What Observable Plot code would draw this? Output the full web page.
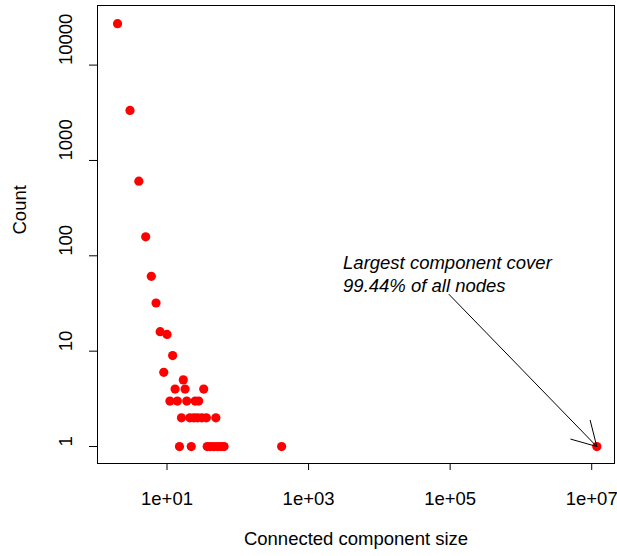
<!DOCTYPE html>
<html>
<head>
<meta charset="utf-8">
<script src="https://cdn.jsdelivr.net/npm/d3@7"></script>
<script src="https://cdn.jsdelivr.net/npm/@observablehq/plot@0.6"></script>
<style>
  html, body { margin: 0; padding: 0; background: #fff; }
</style>
</head>
<body>
<div id="chart"></div>
<script>
// Connected component sizes and their counts
const sizes  = [2, 3, 4, 5, 6, 7, 8, 9, 10, 12,
                17,
                13, 18, 33,
                11, 14, 19, 25, 28,
                16, 21, 24, 27, 31, 36, 49,
                15, 22, 37, 41, 46, 52, 58, 64,
                416, 11800000];
const counts = [27200, 3350, 607, 158, 61, 32, 16, 6, 15, 9,
                5,
                4, 4, 4,
                3, 3, 3, 3, 3,
                2, 2, 2, 2, 2, 2, 2,
                1, 1, 1, 1, 1, 1, 1, 1,
                1, 1];

const xTicks = [1e1, 1e3, 1e5, 1e7];
const xTickLabels = ["1e+01", "1e+03", "1e+05", "1e+07"];
const yTicks = [1, 10, 100, 1000, 10000];
const yTickLabels = ["1", "10", "100", "1000", "10000"];

const xTitle = "Connected component size";
const yTitle = "Count";
const noteText = "Largest component cover\n99.44% of all nodes";
const notePos = {x: 3070, y: 65.5};
const arrowFrom = {x: 96400, y: 39.4};
const arrowTo = {x: sizes[sizes.length - 1], y: counts[counts.length - 1]};

const data = sizes.map((s, i) => ({size: s, count: counts[i]}));

const font = "'Liberation Sans', Arial, Helvetica, sans-serif";
const fs = 18.5;

const chart = Plot.plot({
  width: 617,
  height: 556,
  marginLeft: 97,
  marginRight: 3,
  marginTop: 5,
  marginBottom: 93,
  style: {fontFamily: font, fontSize: fs + "px", color: "#000", background: "#fff"},
  x: {type: "log", domain: [Math.pow(10, 0.018), Math.pow(10, 7.322)]},
  y: {type: "log", domain: [Math.pow(10, -0.178), Math.pow(10, 4.625)]},
  marks: [
    Plot.frame({stroke: "#000", strokeWidth: 1}),
    Plot.axisX({
      ticks: xTicks,
      tickFormat: d => xTickLabels[xTicks.indexOf(d)],
      tickSize: 7,
      tickPadding: 21,
      label: null,
      fontSize: fs,
      stroke: "#000"
    }),
    Plot.axisY({
      ticks: yTicks,
      tickFormat: () => "",
      tickSize: 8,
      label: null,
      stroke: "#000"
    }),
    Plot.text(yTicks, {
      y: d => d,
      text: d => yTickLabels[yTicks.indexOf(d)],
      frameAnchor: "left",
      dx: -31,
      rotate: -90,
      fontSize: fs,
      fill: "#000"
    }),
    Plot.text([yTitle], {
      text: d => d,
      frameAnchor: "left",
      dx: -77,
      rotate: -90,
      fontSize: fs,
      fill: "#000"
    }),
    Plot.text([xTitle], {
      text: d => d,
      frameAnchor: "bottom",
      lineAnchor: "middle",
      dy: 76,
      fontSize: fs,
      fill: "#000"
    }),
    Plot.dot(data, {x: "size", y: "count", r: 4.6, fill: "#ff0000", stroke: null}),
    Plot.text([notePos], {
      x: "x", y: "y",
      text: () => noteText,
      textAnchor: "start",
      lineHeight: 1.2,
      fontSize: fs,
      fontStyle: "italic",
      fill: "#000"
    }),
    Plot.arrow([{x1: arrowFrom.x, y1: arrowFrom.y, x2: arrowTo.x, y2: arrowTo.y}], {
      x1: "x1", y1: "y1", x2: "x2", y2: "y2",
      stroke: "#000",
      strokeWidth: 1,
      headLength: 40.5,
      headAngle: 60,
      insetEnd: 0,
      insetStart: 0
    })
  ]
});
document.getElementById("chart").appendChild(chart);
</script>
</body>
</html>
